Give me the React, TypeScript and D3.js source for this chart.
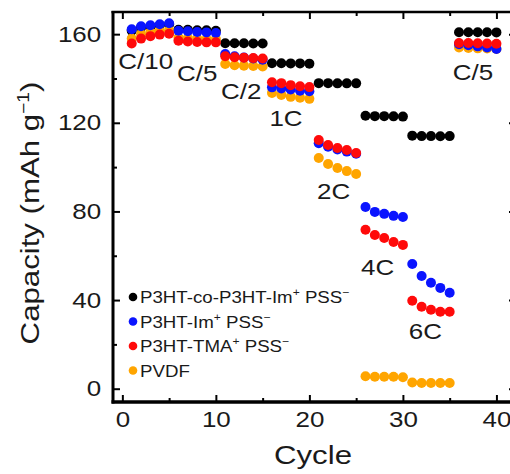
import { useEffect, useRef } from "react";
import { select, scaleLinear, axisLeft, axisBottom, axisTop, axisRight } from "d3";

// cycle number of every point
const cycles = [
  1, 2, 3, 4, 5, 6, 7, 8, 9, 10, 11, 12, 13, 14, 15, 16, 17, 18, 19, 20,
  21, 22, 23, 24, 25, 26, 27, 28, 29, 30, 31, 32, 33, 34, 35, 36, 37, 38, 39, 40,
];

// capacity (mAh/g) per cycle
const coP3HT = [
  161.5, 163, 163.5, 164, 164.5, 162, 162, 161.8, 161.8, 161.5,
  155.9, 155.9, 155.9, 155.8, 155.8, 146.9, 146.9, 146.8, 146.8, 146.7,
  137.9, 137.9, 137.8, 137.8, 137.8, 123.2, 123, 123, 122.9, 122.8,
  114.2, 114, 114, 113.9, 114, 160.9, 160.9, 160.9, 160.9, 160.8,
];
const imPSS = [
  162.2, 163.6, 164, 164.5, 164.9, 161.5, 161.3, 161, 160.8, 160.5,
  151, 150, 149.5, 149, 148.5, 136, 135.5, 135, 134.5, 134.2,
  110.8, 109.2, 108, 107, 106, 82, 79.8, 78.9, 78, 77.5,
  56.3, 50.9, 47.8, 45.5, 43.3, 155.5, 155, 154.5, 154, 153.3,
];
const tmaPSS = [
  155.8, 158, 159.1, 159.8, 160.2, 157, 156.7, 156.5, 156.3, 156.3,
  150, 149.6, 149.4, 149.2, 149, 138.3, 137.9, 137, 136.5, 136.1,
  112.2, 110, 108.6, 107.7, 106.4, 71.7, 69.4, 68, 66.2, 64.9,
  39.7, 37, 35.6, 34.7, 34.7, 156, 156, 155.9, 155.8, 155.7,
];
const pvdf = [
  158, 160, 161, 161.5, 161.8, 158.5, 158.2, 158, 157.8, 157.8,
  146.5, 146, 145.8, 145.6, 145.4, 133.5, 132.6, 131.7, 131.3, 130.8,
  104.1, 101.4, 99.6, 98.2, 96.9, 5.6, 5.4, 5.4, 5.4, 5.2,
  2.8, 2.6, 2.6, 2.6, 2.6, 154, 153.8, 153.6, 153.5, 153.3,
];

// rate annotations (placed in data units)
const rateLabels = ["C/10", "C/5", "C/2", "1C", "2C", "4C", "6C", "C/5"];
const rateCycle = [2.5, 8.0, 12.7, 17.5, 22.6, 27.3, 32.4, 37.5];
const rateValue = [147.8, 142.4, 134.3, 122.1, 89.2, 55, 26.1, 142.9];

// legend names: odd parts are superscripts
const legendNames = [
  ["P3HT-co-P3HT-Im", "+", " PSS", "\u2212"],
  ["P3HT-Im", "+", " PSS", "\u2212"],
  ["P3HT-TMA", "+", " PSS", "\u2212"],
  ["PVDF"],
];
const legendColors = ["#000000", "#0a14ff", "#ff0a0a", "#ffa500"];
const legendData = [coP3HT, imPSS, tmaPSS, pvdf];
const drawOrder = [0, 3, 1, 2];

const xTicks = [0, 10, 20, 30, 40];
const xMinor = [5, 15, 25, 35];
const yTicks = [0, 40, 80, 120, 160];
const yMinor = [20, 60, 100, 140];

const FONT = '"Liberation Sans", Arial, Helvetica, sans-serif';
const W = 510;
const H = 474;

const x = scaleLinear().domain([-1, 42.2]).range([113, 517]);
const y = scaleLinear().domain([-6, 170]).range([402, 12]);

export default function App() {
  const svgRef = useRef<SVGSVGElement>(null);

  useEffect(() => {
    const svg = select(svgRef.current);
    const [x0, x1] = x.range();
    const [y0, y1] = y.range();

    const styleAxis = (g: any, labels: boolean) => {
      g.select(".domain").remove();
      g.selectAll("line").attr("stroke", "#000").attr("stroke-width", 2);
      g.attr("font-family", FONT).attr("font-size", 22);
      if (labels) g.selectAll("text").attr("fill", "#1a1a1a").attr("transform", "scale(1.18,1)");
    };

    svg.select("#x-axis").attr("transform", `translate(0,${y0})`)
      .call(axisBottom(x).tickValues(xTicks).tickSizeInner(-7).tickSizeOuter(0).tickPadding(9) as any)
      .call((g: any) => styleAxis(g, true));
    svg.select("#x-minor").attr("transform", `translate(0,${y0})`)
      .call(axisBottom(x).tickValues(xMinor).tickSizeInner(-4).tickSizeOuter(0).tickFormat(() => "") as any)
      .call((g: any) => styleAxis(g, false));
    svg.select("#y-axis").attr("transform", `translate(${x0},0)`)
      .call(axisLeft(y).tickValues(yTicks).tickSizeInner(-7).tickSizeOuter(0).tickPadding(10) as any)
      .call((g: any) => styleAxis(g, true));
    svg.select("#y-minor").attr("transform", `translate(${x0},0)`)
      .call(axisLeft(y).tickValues(yMinor).tickSizeInner(-4).tickSizeOuter(0).tickFormat(() => "") as any)
      .call((g: any) => styleAxis(g, false));
    svg.select("#x-top").attr("transform", `translate(0,${y1})`)
      .call(axisTop(x).tickValues(xTicks).tickSizeInner(-7).tickSizeOuter(0).tickFormat(() => "") as any)
      .call((g: any) => styleAxis(g, false));
    svg.select("#x-top-minor").attr("transform", `translate(0,${y1})`)
      .call(axisTop(x).tickValues(xMinor).tickSizeInner(-4).tickSizeOuter(0).tickFormat(() => "") as any)
      .call((g: any) => styleAxis(g, false));
    svg.select("#y-right").attr("transform", `translate(${x1},0)`)
      .call(axisRight(y).tickValues(yTicks).tickSizeInner(-8).tickSizeOuter(0).tickFormat(() => "") as any)
      .call((g: any) => styleAxis(g, false));
    svg.select("#y-right-minor").attr("transform", `translate(${x1},0)`)
      .call(axisRight(y).tickValues(yMinor).tickSizeInner(-4).tickSizeOuter(0).tickFormat(() => "") as any)
      .call((g: any) => styleAxis(g, false));

    // points
    const layers = svg.select("#points").selectAll("g").data(drawOrder).join("g")
      .attr("fill", (i) => legendColors[i]);
    layers.selectAll("circle").data((i) => legendData[i]).join("circle")
      .attr("cx", (_, k) => x(cycles[k]))
      .attr("cy", (v) => y(v))
      .attr("r", 5);
  }, []);

  const [x0, x1] = x.range();
  const [y0, y1] = y.range();

  return (
    <svg ref={svgRef} width={W} height={H}
      style={{ position: "absolute", left: 0, top: 0, background: "#fff" }}>
      <g id="points" />
      <g id="x-axis" />
      <g id="x-minor" />
      <g id="y-axis" />
      <g id="y-minor" />
      <g id="x-top" />
      <g id="x-top-minor" />
      <g id="y-right" />
      <g id="y-right-minor" />
      {/* frame */}
      <line x1={x0} x2={x0} y1={y1 - 1} y2={y0 + 1.5} stroke="#000" strokeWidth={3} />
      <line x1={x0 - 1.5} x2={x1} y1={y0} y2={y0} stroke="#000" strokeWidth={3.5} />
      <line x1={x0 - 1.5} x2={x1} y1={y1} y2={y1} stroke="#000" strokeWidth={2.5} />
      <line x1={x1} x2={x1} y1={y1} y2={y0} stroke="#000" strokeWidth={3} />

      {rateLabels.map((t, i) => (
        <text key={i} fontFamily={FONT} fontSize={22} fill="#1a1a1a" textAnchor="middle"
          dominantBaseline="central"
          transform={`translate(${x(rateCycle[i])},${y(rateValue[i])}) scale(1.18,1)`}>
          {t}
        </text>
      ))}

      {legendNames.map((parts, i) => {
        const cy = 297 + i * 24.5;
        return (
          <g key={i}>
            <circle cx={133} cy={cy} r={4.3} fill={legendColors[i]} />
            <text fontFamily={FONT} fontSize={17} fill="#1a1a1a"
              transform={`translate(140,${cy + 6}) scale(1.1,1)`}>
              {parts.map((p, k) =>
                k % 2 === 1 ? (
                  <tspan key={k} fontSize={11} dy={-7}>{p}</tspan>
                ) : (
                  <tspan key={k} dy={k > 0 ? 7 : 0}>{p}</tspan>
                )
              )}
            </text>
          </g>
        );
      })}

      <text fontFamily={FONT} fontSize={26} fill="#1a1a1a" textAnchor="middle"
        transform="translate(313,464) scale(1.2,1)">Cycle</text>
      <text fontFamily={FONT} fontSize={26} fill="#1a1a1a" textAnchor="middle"
        transform="translate(39,213) rotate(-90) scale(1.2,1)">
        Capacity (mAh g<tspan fontSize={16} dy={-10}>{"\u2212"}1</tspan><tspan dy={10}>)</tspan>
      </text>
    </svg>
  );
}
